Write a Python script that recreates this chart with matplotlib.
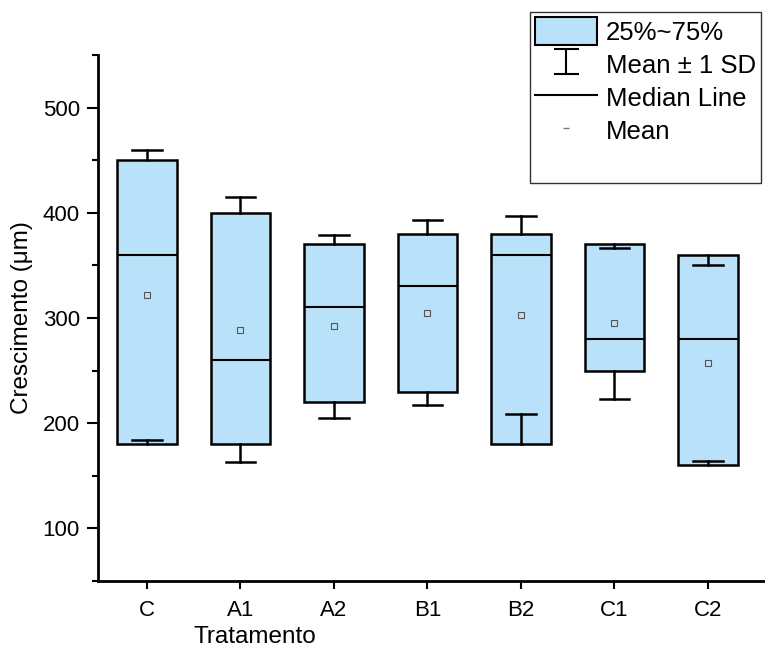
import numpy as np
import matplotlib
matplotlib.use("Agg")
import matplotlib.pyplot as plt
from matplotlib.patches import Patch
from matplotlib.lines import Line2D
from matplotlib.ticker import MultipleLocator

categories = ["C", "A1", "A2", "B1", "B2", "C1", "C2"]
q1 = [180, 180, 220, 230, 180, 250, 160]
median = [360, 260, 310, 330, 360, 280, 280]
q3 = [450, 400, 370, 380, 380, 370, 360]
mean = [322, 289, 292, 305, 303, 295, 257]
sd = [138, 126, 87, 88, 94, 72, 93]

box_color = "#B9E2FA"

plt.rcParams['font.family'] = ['Liberation Sans', 'DejaVu Sans']

fig = plt.figure(figsize=(7.65, 6.55), dpi=100)
ax = fig.add_axes([98/765, 1-581/655, 1-98/765, (581-55)/655])

stats = []
for i, c in enumerate(categories):
    stats.append(dict(label=c, q1=q1[i], med=median[i], q3=q3[i], mean=mean[i],
                      whislo=mean[i]-sd[i], whishi=mean[i]+sd[i], fliers=[]))

ax.bxp(stats, positions=range(len(categories)), widths=0.64, capwidths=0.32,
       patch_artist=True, showmeans=True, showfliers=False,
       boxprops=dict(facecolor=box_color, edgecolor='black', linewidth=1.8),
       medianprops=dict(color='black', linewidth=1.5),
       whiskerprops=dict(color='black', linewidth=1.8),
       capprops=dict(color='black', linewidth=1.8),
       meanprops=dict(marker='s', markersize=4, markerfacecolor='none',
                      markeredgecolor='#555555', markeredgewidth=0.8))

ax.set_xlim(-0.524, 6.61)
ax.set_ylim(50, 550)
ax.yaxis.set_major_locator(MultipleLocator(100))
ax.yaxis.set_minor_locator(MultipleLocator(50))
ax.set_xticks(range(len(categories)))
ax.set_xticklabels(categories)

for s in ['top', 'right']:
    ax.spines[s].set_visible(False)
for s in ['left', 'bottom']:
    ax.spines[s].set_linewidth(2)

ax.tick_params(axis='both', which='major', direction='out', length=8, width=1.5,
               labelsize=16, pad=5)
ax.tick_params(axis='y', which='minor', direction='out', length=4, width=1.5)
ax.tick_params(axis='x', which='major', length=6, pad=8)

ax.set_ylabel("Crescimento (μm)", fontsize=17.5)
ax.yaxis.set_label_coords(-0.097, 0.5)
ax.set_xlabel("Tratamento", fontsize=17.5, va='top')
ax.xaxis.set_label_coords(0.235, -0.085)

eb = ax.errorbar([np.nan], [np.nan], yerr=[[1]], fmt='none', ecolor='black',
                 elinewidth=1.5, capsize=9, capthick=1.5)
handles = [
    Patch(facecolor=box_color, edgecolor='black', linewidth=1.5),
    eb,
    Line2D([], [], color='black', linewidth=1.5),
    Line2D([], [], color='#777777', marker='_', linestyle='none', markersize=4),
    Line2D([], [], alpha=0),
]
labels = ["25%~75%", "Mean ± 1 SD", "Median Line", "Mean", " "]
leg = fig.legend(handles, labels, loc='upper left',
                 bbox_to_anchor=(530/765, 1-12/655), fontsize=18.5,
                 frameon=True, fancybox=False, edgecolor='black',
                 handlelength=2.4, handleheight=1.3, handletextpad=0.35,
                 labelspacing=0.2, borderpad=0.2, borderaxespad=0)
leg.get_frame().set_linewidth(1.0)

fig.savefig("out.png", dpi=100)
